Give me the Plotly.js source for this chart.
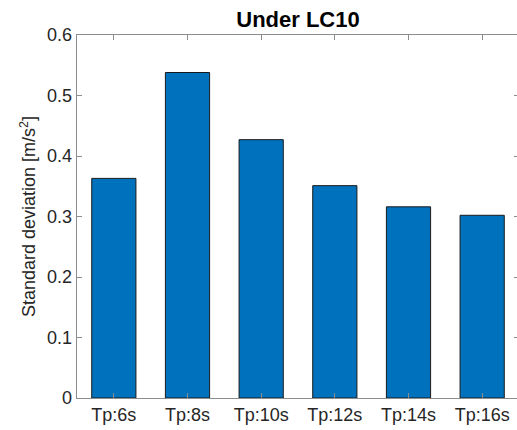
<!DOCTYPE html>
<html>
<head>
<meta charset="utf-8">
<script src="https://cdn.plot.ly/plotly-3.0.1.min.js"></script>
<style>
html,body{margin:0;padding:0;overflow:hidden;background:#fff;}
#chart{width:522px;height:430px;}
</style>
</head>
<body>
<div id="chart"></div>
<script>
const categories = ["Tp:6s", "Tp:8s", "Tp:10s", "Tp:12s", "Tp:14s", "Tp:16s"];
const stdValues = [0.363, 0.538, 0.427, 0.351, 0.316, 0.302];
const yTickVals = [0, 0.1, 0.2, 0.3, 0.4, 0.5, 0.6];
const yTickText = ["0", "0.1", "0.2", "0.3", "0.4", "0.5", "0.6"];

const trace = {
  type: "bar",
  x: categories,
  y: stdValues,
  width: 0.6,
  marker: {color: "#0072BD", line: {color: "#1a1a1a", width: 1}},
  hoverinfo: "none"
};

const fontFam = "Liberation Sans, Arial, Helvetica, sans-serif";
const layout = {
  width: 522,
  height: 430,
  margin: {l: 77, r: 3, t: 35, b: 32},
  paper_bgcolor: "#ffffff",
  plot_bgcolor: "#ffffff",
  showlegend: false,
  bargap: 0.4,
  font: {family: fontFam, size: 18, color: "#262626"},
  title: {
    text: "Under LC10",
    font: {family: fontFam, size: 22, color: "#000000", weight: "bold"},
    x: 0.5, xref: "paper", xanchor: "center",
    y: 1, yref: "paper", yanchor: "bottom", pad: {b: 8}
  },
  xaxis: {
    type: "category",
    range: [-0.5, 5.5],
    showline: true, linecolor: "#8c8c8c", linewidth: 1.3,
    mirror: "ticks",
    ticks: "inside", ticklen: 5, tickcolor: "#8c8c8c", tickwidth: 1,
    showgrid: false, zeroline: false,
    tickfont: {family: fontFam, size: 18, color: "#262626"}
  },
  yaxis: {
    range: [0, 0.6],
    tickvals: yTickVals,
    ticktext: yTickText,
    showline: true, linecolor: "#8c8c8c", linewidth: 1.3,
    mirror: "ticks",
    ticks: "inside", ticklen: 5, tickcolor: "#8c8c8c", tickwidth: 1,
    showgrid: false, zeroline: false,
    tickfont: {family: fontFam, size: 18, color: "#262626"},
    title: {
      text: "Standard deviation [m/s<sup>2</sup>]",
      font: {family: fontFam, size: 18, color: "#262626"},
      standoff: 6
    }
  }
};

Plotly.newPlot("chart", [trace], layout, {staticPlot: true, displayModeBar: false});
</script>
</body>
</html>
